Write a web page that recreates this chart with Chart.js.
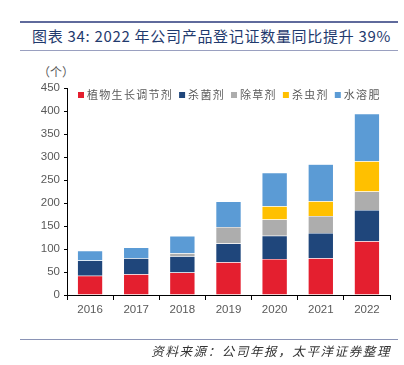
<!DOCTYPE html>
<html lang="zh">
<head>
<meta charset="UTF-8">
<title>产品登记证数量</title>
<style>
  body { margin: 0; width: 404px; height: 365px; background: #fff; position: relative; overflow: hidden; font-family: "Noto Sans CJK SC", sans-serif; }
  .topline { position: absolute; left: 20px; top: 21px; width: 378px; height: 2px; background: #5f6a9c; }
  .title { position: absolute; left: 32px; top: 25px; font-size: 15px; color: #1f3a6e; white-space: nowrap; letter-spacing: 0.7px; }
  .subline { position: absolute; left: 20px; top: 50px; width: 378px; height: 1px; background: #9aa0c0; }
  .unit { position: absolute; left: 38px; top: 63px; font-size: 12px; color: #595959; }
  .footline { position: absolute; left: 20px; top: 339px; width: 378px; height: 1px; background: #8a93b5; }
  .source { position: absolute; right: 13px; top: 341px; font-size: 12.5px; color: #333; font-style: italic; white-space: nowrap; letter-spacing: 1.6px; }
  #wrap { position: absolute; left: 0; top: 0; width: 404px; height: 365px; }
</style>
</head>
<body>
<div class="topline"></div>
<div class="title">图表 34: 2022 年公司产品登记证数量同比提升 39%</div>
<div class="subline"></div>
<div class="unit">（个）</div>
<div id="wrap"><canvas id="myChart" width="404" height="365"></canvas></div>
<div class="footline"></div>
<div class="source">资料来源：公司年报，太平洋证券整理</div>
<script src="https://cdn.jsdelivr.net/npm/chart.js"></script>
<script>
const years = ['2016', '2017', '2018', '2019', '2020', '2021', '2022'];
const growthRegulator = [42, 45, 49, 71, 78, 80, 117];   // 植物生长调节剂
const fungicide = [33, 35, 35, 41, 51, 55, 68];          // 杀菌剂
const herbicide = [0, 0, 7, 36, 35, 37, 40];             // 除草剂
const insecticide = [0, 0, 0, 0, 29, 32, 66];            // 杀虫剂
const waterFertilizer = [21, 23, 37, 55, 73, 80, 103];   // 水溶肥
const yTicks = [0, 50, 100, 150, 200, 250, 300, 350, 400, 450];

const ctx = document.getElementById('myChart');

function ds(label, data, color) {
    return {
        label: label,
        data: data,
        backgroundColor: color,
        borderColor: 'rgba(255,255,255,0.6)',
        borderWidth: 0.5,
        categoryPercentage: 0.55,
        barPercentage: 1
    };
}

// legend drawn inside the plot area, one row
const innerLegend = {
    id: 'innerLegend',
    afterDraw(chart) {
        const c = chart.ctx;
        let x = chart.chartArea.left + 11;
        const y = chart.chartArea.top + 7;
        c.save();
        c.font = '11px "Noto Sans CJK SC"';
        c.letterSpacing = '1.3px';
        c.textBaseline = 'middle';
        chart.data.datasets.forEach(d => {
            c.fillStyle = d.backgroundColor;
            c.fillRect(x, y - 3, 6, 6);
            x += 9;
            c.fillStyle = '#595959';
            c.fillText(d.label, x, y);
            x += c.measureText(d.label).width + 6;
        });
        c.restore();
    }
};

new Chart(ctx, {
    type: 'bar',
    data: {
        labels: years,
        datasets: [
            ds('植物生长调节剂', growthRegulator, '#e41f2f'),
            ds('杀菌剂', fungicide, '#1f467b'),
            ds('除草剂', herbicide, '#adadad'),
            ds('杀虫剂', insecticide, '#ffc000'),
            ds('水溶肥', waterFertilizer, '#5b9bd5')
        ]
    },
    options: {
        responsive: false,
        animation: false,
        layout: { padding: { top: 88, right: 14, left: 0, bottom: 0 } },
        plugins: {
            legend: { display: false },
            tooltip: { enabled: false }
        },
        scales: {
            x: {
                stacked: true,
                afterFit: (s) => { s.height = 70; },
                grid: { drawOnChartArea: false, color: '#000', tickLength: 5, offset: true },
                border: { color: '#000', width: 1 },
                ticks: { color: '#595959', padding: 3, font: { size: 11.5, family: 'Liberation Sans' } }
            },
            y: {
                stacked: true,
                min: 0,
                max: 450,
                afterFit: (s) => { s.width = 67; },
                afterBuildTicks: (s) => { s.ticks = yTicks.map(v => ({ value: v })); },
                grid: { drawOnChartArea: false, color: '#000', tickLength: 3 },
                border: { color: '#000', width: 1 },
                ticks: { color: '#595959', padding: 4, font: { size: 11.5, family: 'Liberation Sans' } }
            }
        }
    },
    plugins: [innerLegend]
});
</script>
</body>
</html>
